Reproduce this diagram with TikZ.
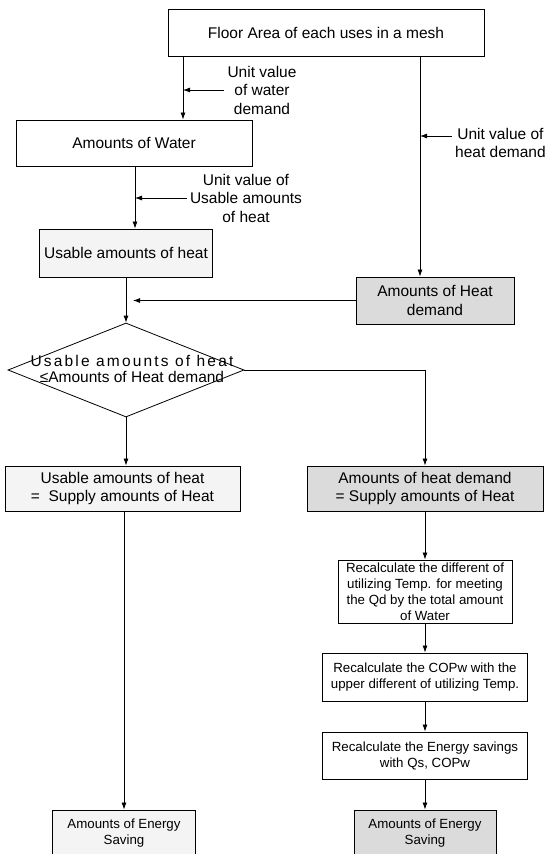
\documentclass[tikz,border=0pt]{standalone}
\usepackage{fontspec}
\setmainfont{Liberation Sans}
\usetikzlibrary{shapes.geometric,arrows.meta}
\tikzset{
  box/.style={draw,line width=0.9pt,inner sep=0pt,align=center,font=\fontsize{15.5}{18.5}\selectfont},
  smallbox/.style={box,font=\fontsize{13.3}{16}\selectfont},
  light/.style={fill=gray!9},
  dark/.style={fill=gray!28},
  lbl/.style={align=center,inner sep=3pt,font=\fontsize{15.5}{18.5}\selectfont},
  arr/.style={-{Latex[length=7pt,width=5pt]},line width=0.8pt}
}
\begin{document}
\begin{tikzpicture}[x=1pt,y=-1pt]
\useasboundingbox (0,0) rectangle (544,854);
\node[box,minimum width=316,minimum height=47] (floor) at (326,33) {Floor Area of each uses in a mesh};
\node[box,minimum width=236,minimum height=46] (water) at (134,143) {Amounts of Water};
\node[box,light,minimum width=173,minimum height=48] (usable) at (126,253) {Usable amounts of heat};
\node[box,dark,minimum width=158,minimum height=47] (heat) at (435,300.5) {Amounts of Heat\\demand};
\node[draw,diamond,line width=0.8pt,inner sep=0pt,minimum width=236,minimum height=94] (cmp) at (126,370) {};
\node[lbl,font=\fontsize{15.5}{16}\selectfont] (cmptxt) at (132,369) {{\addfontfeature{LetterSpace=14}Usable amounts of heat}\\≤Amounts of Heat demand};
\node[box,light,minimum width=235,minimum height=45] (supl) at (122.5,488.5) {Usable amounts of heat\\=\ \ Supply amounts of Heat};
\node[box,dark,minimum width=236,minimum height=45] (supr) at (425,488.5) {Amounts of heat demand\\= Supply amounts of Heat};
\node[smallbox,minimum width=174,minimum height=63] (recalc1) at (425,591.5) {Recalculate the different of\\utilizing Temp. for meeting\\the Qd by the total amount\\of Water};
\node[smallbox,minimum width=205,minimum height=48] (recalc2) at (425,677) {Recalculate the COPw with the\\upper different of utilizing Temp.};
\node[smallbox,minimum width=205,minimum height=47] (recalc3) at (425,755.5) {Recalculate the Energy savings\\with Qs, COPw};
\node[smallbox,light,minimum width=143,minimum height=46] (savel) at (124,833) {Amounts of Energy\\Saving};
\node[smallbox,dark,minimum width=142,minimum height=46] (saver) at (425,833) {Amounts of Energy\\Saving};
% side labels
\node[lbl] (lblwater) at (262,90) {Unit value\\of water\\demand};
\node[lbl] (lblusable) at (246,198) {Unit value of\\Usable amounts\\of heat};
\node[lbl,anchor=west] (lblheat) at (452,143) {Unit value of\\heat demand};
\coordinate (xw) at (183,0);
\coordinate (xu) at (135,0);
\coordinate (xh) at (420,0);
\coordinate (jn) at (133,0);
\draw[arr] (floor.south -| xw) -- (water.north -| xw);
\draw[arr] (lblwater.west) -- (lblwater.west -| xw);
\draw[arr] (water.south -| xu) -- (usable.north -| xu);
\draw[arr] (lblusable.west) -- (lblusable.west -| xu);
\draw[arr] (floor.south -| xh) -- (heat.north -| xh);
\draw[arr] ([yshift=7pt]lblheat.west) -- ([yshift=7pt]lblheat.west -| xh);
\draw[arr] (usable.south) -- (cmp.north);
\draw[arr] (heat.west) -- (heat.west -| jn);
\draw[arr] (cmp.south) -- (cmp.south |- supl.north);
\draw[arr] (cmp.east) -| (supr.north);
\draw[arr] (supl.south -| savel.north) -- (savel.north);
\foreach \a/\b in {supr/recalc1,recalc1/recalc2,recalc2/recalc3,recalc3/saver}
  \draw[arr] (\a.south) -- (\b.north);
\end{tikzpicture}
\end{document}
